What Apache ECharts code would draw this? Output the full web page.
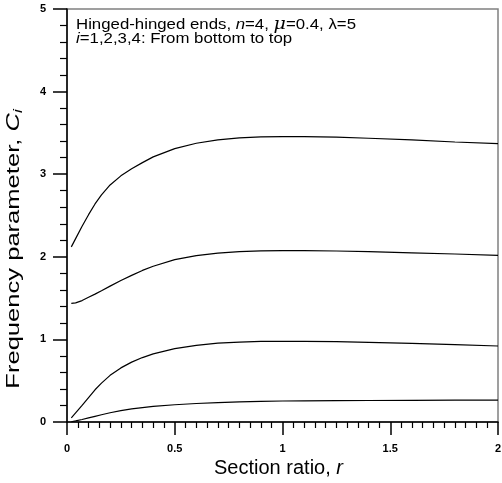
<!DOCTYPE html>
<html>
<head>
<meta charset="utf-8">
<script src="https://cdn.jsdelivr.net/npm/echarts@6/dist/echarts.min.js"></script>
<style>
html,body{margin:0;padding:0;background:#fff;}
#c{width:502px;height:483px;}
</style>
</head>
<body>
<div id="c"></div>
<script>
// Section ratio r
var rValues = [0.02, 0.04, 0.07, 0.10, 0.13, 0.16, 0.20, 0.25, 0.30, 0.35, 0.40, 0.50, 0.60, 0.70, 0.80, 0.90, 1.00, 1.10, 1.25, 1.40, 1.60, 1.80, 2.00];
// Frequency parameter C_i, i = 1..4 (bottom to top)
var c1 = [0.003, 0.013, 0.030, 0.050, 0.069, 0.088, 0.112, 0.137, 0.158, 0.175, 0.188, 0.209, 0.224, 0.235, 0.243, 0.250, 0.254, 0.256, 0.258, 0.260, 0.262, 0.264, 0.266];
var c2 = [0.050, 0.110, 0.200, 0.295, 0.390, 0.470, 0.565, 0.655, 0.725, 0.780, 0.825, 0.888, 0.928, 0.955, 0.968, 0.975, 0.977, 0.976, 0.972, 0.963, 0.952, 0.937, 0.920];
var c3 = [1.437, 1.443, 1.470, 1.510, 1.548, 1.588, 1.645, 1.713, 1.775, 1.835, 1.885, 1.965, 2.015, 2.045, 2.063, 2.072, 2.075, 2.074, 2.070, 2.062, 2.048, 2.034, 2.018];
var c4 = [2.12, 2.22, 2.37, 2.51, 2.64, 2.75, 2.87, 2.98, 3.065, 3.14, 3.21, 3.31, 3.375, 3.415, 3.44, 3.452, 3.456, 3.455, 3.448, 3.435, 3.415, 3.39, 3.37];
var xTicks = [0, 0.5, 1, 1.5, 2];
var yTicks = [0, 1, 2, 3, 4, 5];

function pairs(ys) { return rValues.map(function (r, k) { return [r, ys[k]]; }); }

var font = 'Liberation Sans, Arial, sans-serif';
var chart = echarts.init(document.getElementById('c'), null, {renderer: 'canvas'});
var seriesList = [c1, c2, c3, c4].map(function (ys) {
  return {
    type: 'line', data: pairs(ys), showSymbol: false, smooth: false,
    lineStyle: {color: '#000', width: 1.2}, silent: true
  };
});

chart.setOption({
  animation: false,
  backgroundColor: '#fff',
  graphic: [
    {
      type: 'text', left: 76, top: 16, scaleX: 1.12, silent: true,
      style: {
        text: '{t|Hinged-hinged ends, }{it|n}{t|=4, }{mu|\u03bc}{t|=0.4, \u03bb=5}\n{it|i}{t|=1,2,3,4: From bottom to top}',
        rich: {
          t: {fontFamily: font, fontSize: 15, color: '#000', lineHeight: 14},
          it: {fontFamily: font, fontSize: 15, fontStyle: 'italic', color: '#000', lineHeight: 14},
          mu: {fontFamily: 'DejaVu Serif, serif', fontSize: 17, fontStyle: 'italic', color: '#000', lineHeight: 14}
        }
      }
    },
    {
      type: 'text', x: 14, y: 249, rotation: Math.PI / 2, scaleX: 1.42, silent: true,
      style: {
        text: '{a|Frequency parameter, }{i|C}{s|i}',
        align: 'center', verticalAlign: 'middle',
        rich: {
          a: {fontFamily: font, fontSize: 18, color: '#000', lineHeight: 22},
          i: {fontFamily: font, fontSize: 18, fontStyle: 'italic', color: '#000', lineHeight: 22},
          s: {fontFamily: font, fontSize: 12, fontStyle: 'italic', color: '#000', lineHeight: 22, verticalAlign: 'bottom', padding: [6, 0, 0, 0]}
        }
      }
    }
  ],
  grid: {left: 67, right: 4, top: 9, bottom: 61, containLabel: false, outerBoundsMode: 'none',
    show: true, borderColor: '#808080', borderWidth: 1.5},
  xAxis: {
    type: 'value', min: 0, max: 2, interval: 0.5,
    axisLine: {lineStyle: {color: '#000', width: 1.5}},
    axisTick: {show: true, length: 13, lineStyle: {color: '#000', width: 1.5}},
    minorTick: {show: true, splitNumber: 10, length: 6, lineStyle: {color: '#000', width: 1.2}},
    splitLine: {show: false},
    axisLabel: {
      margin: 21, fontFamily: font, fontWeight: 'bold', fontSize: 11, color: '#000',
      formatter: function (v) { var m = xTicks.filter(function (t) { return Math.abs(t - v) < 1e-9; }); return m.length ? String(m[0]) : ''; }
    },
    name: '{a|Section ratio, }{i|r}',
    nameLocation: 'middle', nameGap: 34,
    nameTextStyle: {padding: [0, 8, 0, 0], rich: {
      a: {fontFamily: font, fontSize: 20, color: '#000'},
      i: {fontFamily: font, fontSize: 20, fontStyle: 'italic', color: '#000'}
    }}
  },
  yAxis: {
    type: 'value', min: 0, max: 5, interval: 1,
    axisLine: {lineStyle: {color: '#000', width: 1.5}},
    axisTick: {show: true, length: 14, lineStyle: {color: '#000', width: 1.5}},
    minorTick: {show: true, splitNumber: 5, length: 7, lineStyle: {color: '#000', width: 1.2}},
    splitLine: {show: false},
    axisLabel: {
      margin: 21, fontFamily: font, fontWeight: 'bold', fontSize: 11, color: '#000',
      formatter: function (v) { var m = yTicks.filter(function (t) { return Math.abs(t - v) < 1e-9; }); return m.length ? String(m[0]) : ''; }
    }
  },
  series: seriesList
});
</script>
</body>
</html>
